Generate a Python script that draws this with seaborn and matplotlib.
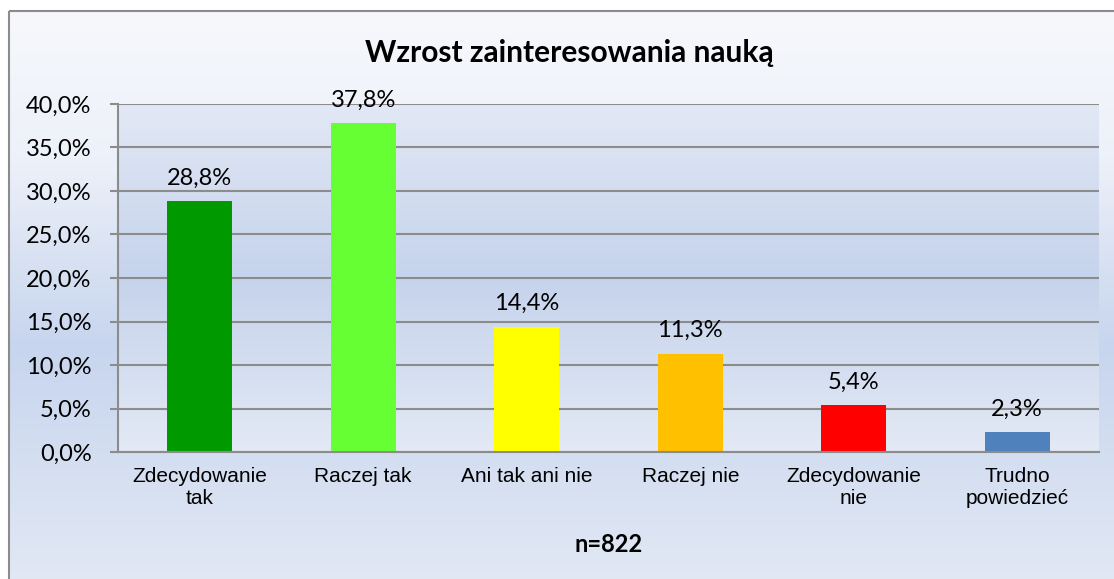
import numpy as np
import pandas as pd
import matplotlib.pyplot as plt
import seaborn as sns
from matplotlib.colors import LinearSegmentedColormap
from matplotlib.patches import Rectangle

# Data
categories = ['Zdecydowanie\ntak', 'Raczej tak', 'Ani tak ani nie', 'Raczej nie',
              'Zdecydowanie\nnie', 'Trudno\npowiedzieć']
values = [28.8, 37.8, 14.4, 11.3, 5.4, 2.3]
bar_colors = ['#009900', '#66ff33', '#ffff00', '#ffc000', '#ff0000', '#4f81bd']
y_ticks = [0, 5, 10, 15, 20, 25, 30, 35, 40]
title = 'Wzrost zainteresowania nauką'
sample_label = 'n=822'

df = pd.DataFrame({'odpowiedz': categories, 'procent': values})

sns.set_style('white')
plt.rcParams['font.family'] = ['Lato', 'DejaVu Sans']
plt.rcParams['text.color'] = 'black'
plt.rcParams['axes.labelcolor'] = 'black'
plt.rcParams['xtick.labelcolor'] = 'black'
plt.rcParams['ytick.labelcolor'] = 'black'

W, H = 1114, 579
fig = plt.figure(figsize=(W / 100, H / 100), dpi=100)
grad = np.linspace(0, 1, 256).reshape(-1, 1)

# outer chart area with gradient + grey frame
bg = fig.add_axes([0, 0, 1, 1], zorder=-2)
outer_cmap = LinearSegmentedColormap.from_list(
    'outer', [(0, '#f6f8fc'), (0.25, '#edf1f9'), (0.57, '#c7d5ee'), (1, '#e4eaf5')])
bg.imshow(grad, cmap=outer_cmap, extent=[9, W + 20, H + 20, 11], aspect='auto')
bg.add_patch(Rectangle((9, 11), W + 20, H + 20, fill=False, edgecolor='#8c8c8c', lw=1.5))
bg.set_xlim(0, W)
bg.set_ylim(H, 0)
bg.axis('off')

# plot area position (pixels -> figure fraction)
pos = [118 / W, 1 - 452 / H, (1099 - 118) / W, (452 - 104) / H]

pa = fig.add_axes(pos, zorder=-1)
plot_cmap = LinearSegmentedColormap.from_list(
    'plot', [(0, '#e2e8f5'), (0.5, '#c5d3ec'), (1, '#e3e9f5')])
pa.imshow(grad, cmap=plot_cmap, extent=[0, 1, 0, 1], aspect='auto')
pa.set_xlim(0, 1)
pa.set_ylim(0, 1)
pa.axis('off')

ax = fig.add_axes(pos)
ax.patch.set_alpha(0)
sns.barplot(data=df, x='odpowiedz', y='procent', hue='odpowiedz', palette=bar_colors,
            width=0.4, saturation=1, legend=False, linewidth=0, ax=ax)

for c in ax.containers:
    ax.bar_label(c, fmt=lambda v: f'{v:.1f}%'.replace('.', ','), padding=9, fontsize=17)

ax.set_ylim(0, 40)
ax.set_yticks(y_ticks)
ax.set_yticklabels([f'{v:.1f}%'.replace('.', ',') for v in y_ticks], fontsize=17)
ax.yaxis.grid(True, color='#8c8c8c', lw=1.5)
ax.set_axisbelow(True)
for s in ['top', 'right']:
    ax.spines[s].set_visible(False)
for s in ['left', 'bottom']:
    ax.spines[s].set_color('#8c8c8c')
    ax.spines[s].set_linewidth(1.5)
ax.tick_params(axis='y', length=6, width=1.5, color='#8c8c8c', pad=13, left=True)
ax.tick_params(axis='x', length=0, pad=11)
for lab in ax.get_xticklabels():
    lab.set_fontfamily(['Liberation Sans', 'DejaVu Sans'])
    lab.set_fontsize(15)

ax.set_ylabel('')
ax.set_xlabel(sample_label, fontsize=17, fontweight='bold', labelpad=18)

fig.text(569 / W, 1 - 53 / H, title, ha='center', va='center', fontsize=21.5, fontweight='bold')

fig.savefig('out.png', dpi=100)
